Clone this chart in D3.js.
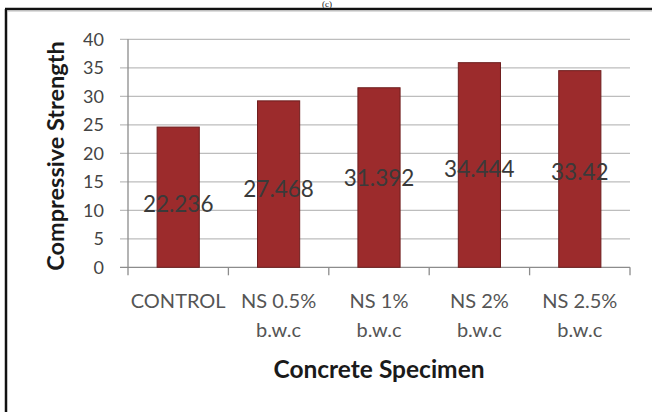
<!DOCTYPE html>
<html>
<head>
<meta charset="utf-8">
<script src="https://cdn.jsdelivr.net/npm/d3@7"></script>
<style>
  body { margin: 0; background: #fff; }
  svg { display: block; }
</style>
</head>
<body>
<svg id="chart"></svg>
<script>
// data
var categories = ["CONTROL", "NS 0.5% b.w.c", "NS 1% b.w.c", "NS 2% b.w.c", "NS 2.5% b.w.c"];
var barValues = [24.6, 29.2, 31.5, 35.9, 34.5];
var labelValues = [22.236, 27.468, 31.392, 34.444, 33.42];
var labelTexts = ["22.236", "27.468", "31.392", "34.444", "33.42"];
var yTicks = [0, 5, 10, 15, 20, 25, 30, 35, 40];

var width = 652, height = 412;
var margin = {top: 39.3, right: 22, bottom: 145, left: 128};

var svg = d3.select('#chart')
            .attr("width", width)
            .attr("height", height);

var x = d3.scaleBand()
          .domain(categories)
          .range([margin.left, width - margin.right])
          .paddingInner(0.58)
          .paddingOuter(0.29);

var y = d3.scaleLinear()
          .domain([0, 40])
          .range([height - margin.bottom + 0.3, margin.top]);

//frame, cut off on the right and bottom
svg.append("line").attr("x1", 6).attr("x2", 6).attr("y1", 9).attr("y2", height)
   .attr("stroke", "#111").attr("stroke-width", 2.5);
svg.append("line").attr("x1", 5).attr("x2", width).attr("y1", 9).attr("y2", 9)
   .attr("stroke", "#111").attr("stroke-width", 2.5);
svg.append("line").attr("x1", 7).attr("x2", width).attr("y1", 11).attr("y2", 11)
   .attr("stroke", "#bbb").attr("stroke-width", 1);

//panel caption above the frame
svg.append("text").attr("x", 327).attr("y", 7).attr("text-anchor", "middle")
   .style("font", "9px 'Liberation Serif'").attr("fill", "#222").text("(c)");

//gridlines + y axis
var yg = svg.append("g").attr("transform", "translate(" + margin.left + ",0)");
yg.selectAll("line.grid").data(yTicks).enter().append("line")
  .attr("class", "grid")
  .attr("x1", -8).attr("x2", width - margin.right - margin.left)
  .attr("y1", function(d){ return y(d); }).attr("y2", function(d){ return y(d); })
  .attr("stroke", function(d){ return d === 0 ? "#8c8c8c" : "#bdbdbd"; })
  .attr("stroke-width", 1.3);
yg.append("line").attr("x1", 0).attr("x2", 0).attr("y1", y(40)).attr("y2", y(0))
  .attr("stroke", "#8c8c8c").attr("stroke-width", 1.3);
yg.selectAll("text.tick").data(yTicks).enter().append("text")
  .attr("class", "tick")
  .attr("x", -24).attr("y", function(d){ return y(d); })
  .attr("dy", "0.36em").attr("text-anchor", "end")
  .style("font", "18px Lato").attr("fill", "#444")
  .text(function(d){ return d; });

//x axis tick marks at band boundaries
var bounds = categories.map(function(c){ return x(c) - x.step() * x.paddingInner() / 2; });
bounds.push(width - margin.right);
svg.selectAll("line.xtick").data(bounds).enter().append("line")
   .attr("class", "xtick")
   .attr("x1", function(d){ return d; }).attr("x2", function(d){ return d; })
   .attr("y1", y(0)).attr("y2", y(0) + 8)
   .attr("stroke", "#8c8c8c").attr("stroke-width", 1.3);

//bars
svg.selectAll("rect.bar").data(barValues).enter().append("rect")
   .attr("class", "bar")
   .attr("x", function(d, i){ return x(categories[i]); })
   .attr("y", function(d){ return y(d); })
   .attr("width", x.bandwidth())
   .attr("height", function(d){ return y(0) - y(d); })
   .attr("fill", "#9c2b2c")
   .attr("stroke", "#6e1e1e").attr("stroke-width", 1);

//data labels, centred on half of the labelled value
svg.selectAll("text.val").data(labelValues).enter().append("text")
   .attr("class", "val")
   .attr("x", function(d, i){ return x(categories[i]) + x.bandwidth() / 2; })
   .attr("y", function(d){ return y(d / 2); })
   .attr("dy", "0.36em").attr("text-anchor", "middle")
   .style("font", "22.5px Lato").attr("fill", "#3a3a3a")
   .text(function(d, i){ return labelTexts[i]; });

//category labels, two lines
svg.selectAll("text.cat").data(categories).enter().append("text")
   .attr("class", "cat")
   .attr("text-anchor", "middle")
   .style("font", "20px Lato").attr("fill", "#555")
   .each(function(d){
       var t = d3.select(this);
       var cx = x(d) + x.bandwidth() / 2;
       var parts = d === "CONTROL" ? [d] : [d.replace(" b.w.c", ""), "b.w.c"];
       parts.forEach(function(p, k){
           t.append("tspan").attr("x", cx).attr("y", 308 + k * 29).text(p);
       });
   });

//axis titles
svg.append("text")
   .attr("x", (margin.left + width - margin.right) / 2).attr("y", 378)
   .attr("text-anchor", "middle")
   .style("font", "bold 24.5px Lato").attr("fill", "#1a1a1a")
   .text("Concrete Specimen");

svg.append("text")
   .attr("transform", "translate(64,156) rotate(-90)")
   .attr("text-anchor", "middle")
   .style("font", "bold 23.5px Lato").attr("fill", "#1a1a1a")
   .text("Compressive Strength");
</script>
</body>
</html>
